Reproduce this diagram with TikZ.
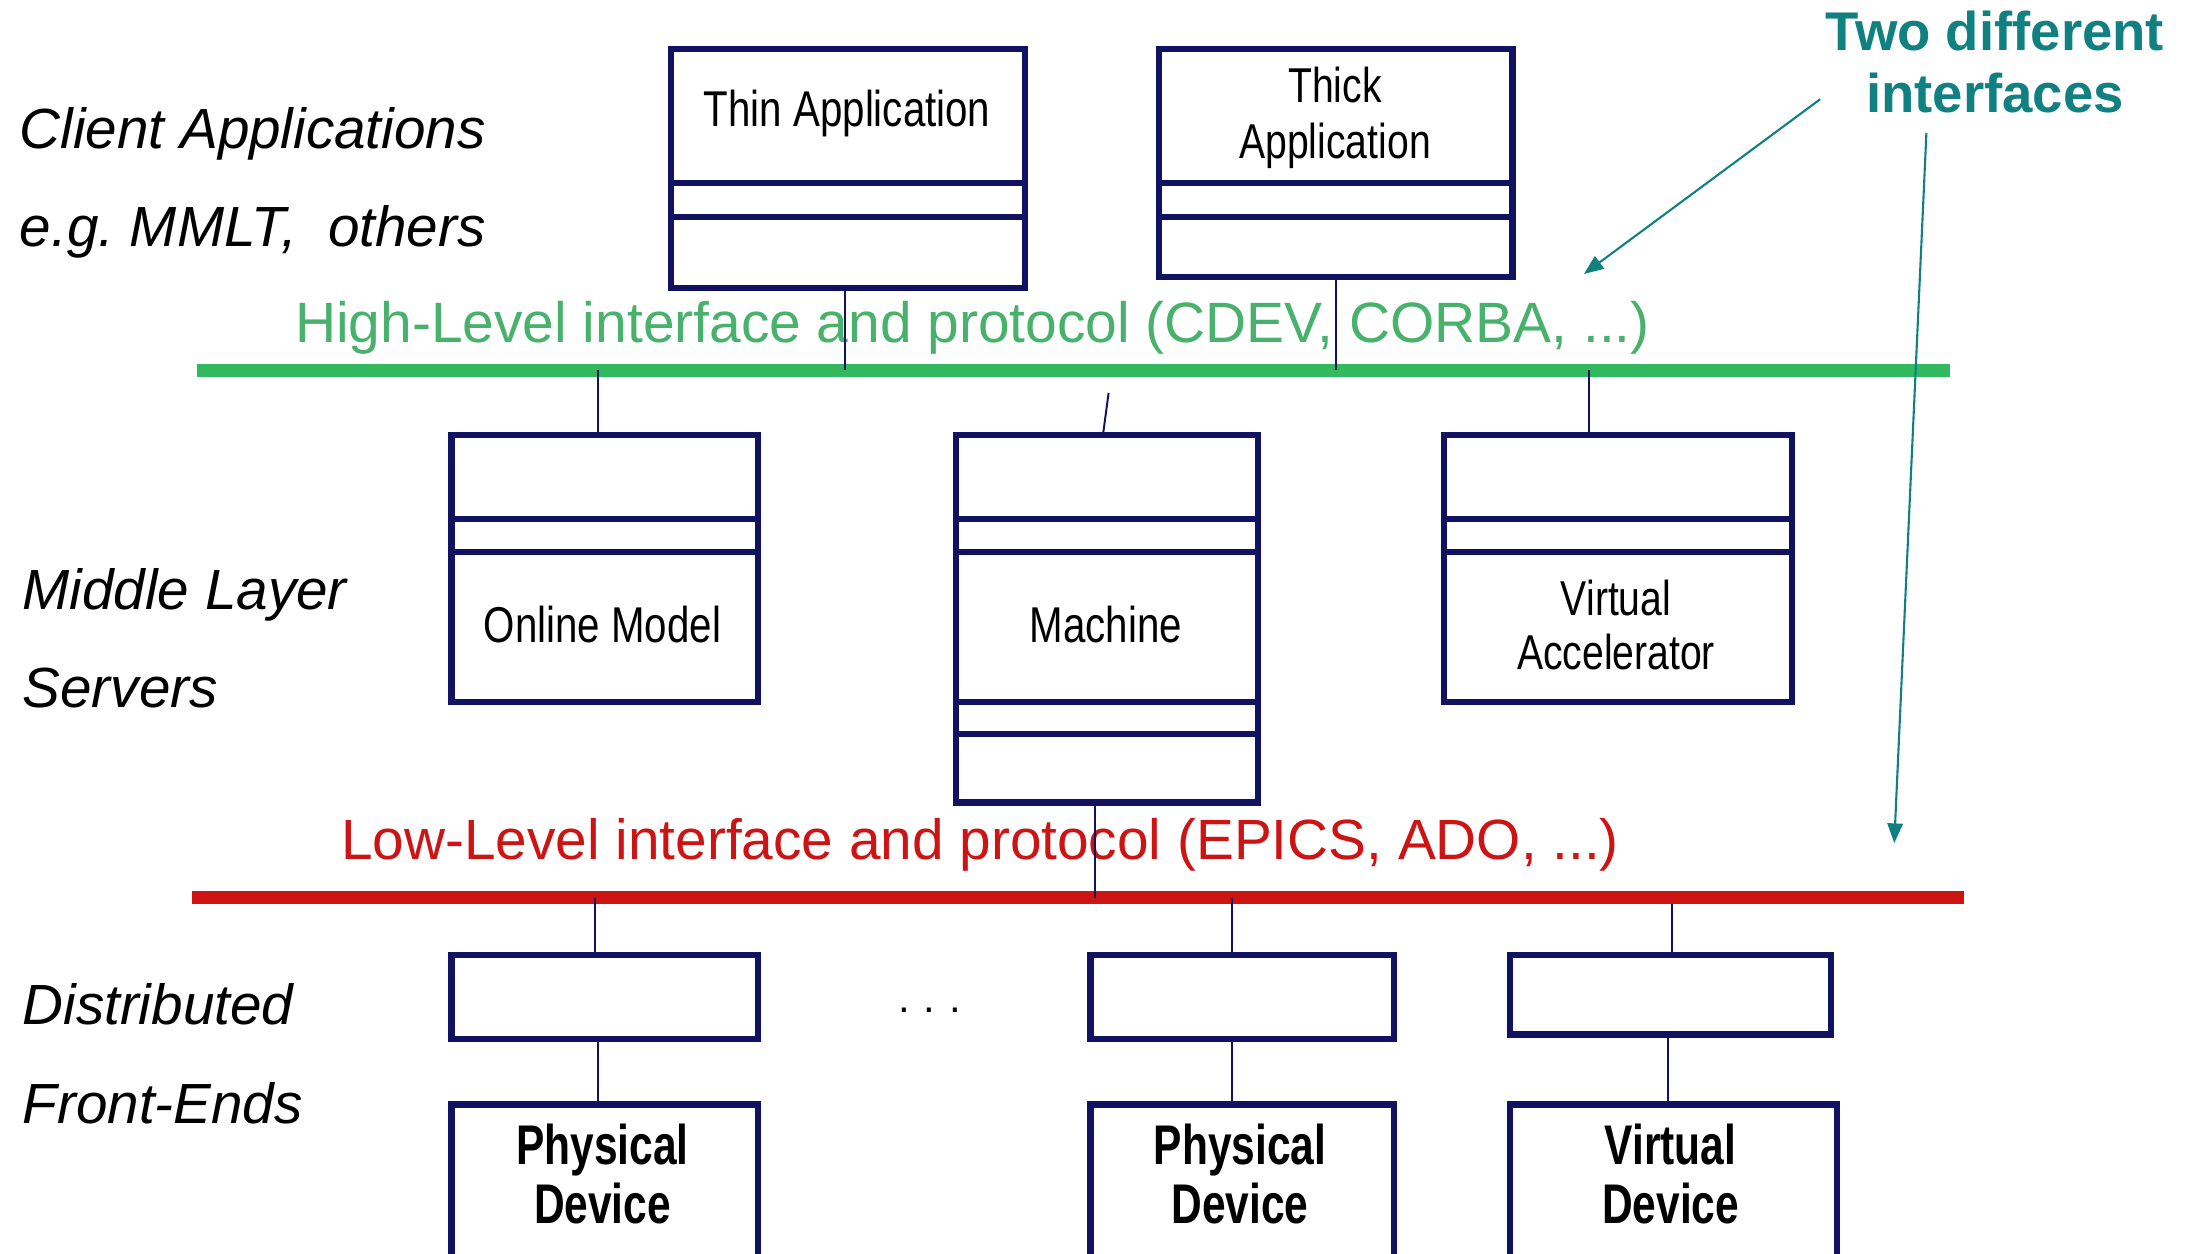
\documentclass[tikz,border=0pt]{standalone}
\usepackage{fontspec}
\setmainfont{Liberation Sans}
\newfontfamily\narrowfont[FakeStretch=0.8]{Liberation Sans}
\newfontfamily\devfont[FakeStretch=0.76]{Liberation Sans}
\usetikzlibrary{arrows.meta,calc}
\definecolor{boxnavy}{RGB}{18,18,98}
\definecolor{busgreen}{RGB}{50,185,95}
\definecolor{hltext}{RGB}{72,178,108}
\definecolor{busred}{RGB}{205,20,20}
\definecolor{tealnote}{RGB}{16,128,128}
\begin{document}
\begin{tikzpicture}[x=1pt,y=-1pt,
  umlbox/.style={draw=boxnavy, line width=4.5pt, inner sep=0pt, outer sep=0pt, anchor=north west},
  sepline/.style={draw=boxnavy, line width=4.5pt},
  conn/.style={draw=boxnavy, line width=1.4pt},
  layerlbl/.style={font=\fontsize{40.5}{44}\selectfont\itshape, anchor=base west, inner sep=0pt, text=black},
  boxtxt/.style={font=\narrowfont\fontsize{36}{40}\selectfont, align=center, inner sep=0pt, text=black},
  devtxt/.style={font=\devfont\bfseries\fontsize{40}{42}\selectfont, align=center, inner sep=0pt, text=black, anchor=north},
  bus/.style={inner sep=0pt, outer sep=0pt, anchor=west},
  note/.style={draw=tealnote, line width=1.5pt, -{Triangle[length=14pt,width=11pt]}}
]
\clip (0,0) rectangle (1568,897);
\fill[white] (0,0) rectangle (1568,897);

% layer labels
\node[layerlbl] (l1) at (14,106) {Client Applications};
\node[layerlbl] (l2) at (14,176) {e.g.\ MMLT,\ \ others};
\node[layerlbl] (l3) at (16,436) {Middle Layer};
\node[layerlbl] (l4) at (16,506) {Servers};
\node[layerlbl] (l5) at (16,733) {Distributed};
\node[layerlbl] (l6) at (16,804) {Front-Ends};

% buses
\node[bus, fill=busgreen, minimum width=1254, minimum height=9] (hl) at (141,265) {};
\node[bus, fill=busred, minimum width=1268, minimum height=10] (ll) at (137,642) {};
\node[anchor=base west, inner sep=0pt, text=hltext, font=\fontsize{40.7}{44}\selectfont] (hlt) at (211,245) {High-Level interface and protocol (CDEV, CORBA, ...)};
\node[anchor=base west, inner sep=0pt, text=busred, font=\fontsize{40.6}{44}\selectfont] (llt) at (244,615) {Low-Level interface and protocol (EPICS, ADO, ...)};

% client applications
\node[umlbox, minimum width=253, minimum height=171] (thin) at (480,35) {};
\draw[sepline] (thin.west |- 0,131) -- (thin.east |- 0,131);
\draw[sepline] (thin.west |- 0,155) -- (thin.east |- 0,155);
\node[boxtxt] (thint) at (606,81) {Thin Application};

\node[umlbox, minimum width=253, minimum height=163] (thick) at (829,35) {};
\draw[sepline] (thick.west |- 0,131) -- (thick.east |- 0,131);
\draw[sepline] (thick.west |- 0,155) -- (thick.east |- 0,155);
\node[boxtxt, anchor=north, font=\narrowfont\fontsize{35}{40}\selectfont] (thickt) at (955,48) {Thick\\Application};

\coordinate (thinb) at ($(thin.south)+(-2,0)$);
\draw[conn] (thinb) -- (thinb |- hl.center);
\draw[conn] (thick.south) -- (thick.south |- hl.center);

% middle layer servers
\node[umlbox, minimum width=219, minimum height=191] (om) at (323,311) {};
\draw[sepline] (om.west |- 0,371) -- (om.east |- 0,371);
\draw[sepline] (om.west |- 0,395) -- (om.east |- 0,395);
\node[boxtxt] (omt) at (431,447) {Online Model};

\node[umlbox, minimum width=216, minimum height=263] (mach) at (684,311) {};
\draw[sepline] (mach.west |- 0,371) -- (mach.east |- 0,371);
\draw[sepline] (mach.west |- 0,395) -- (mach.east |- 0,395);
\draw[sepline] (mach.west |- 0,502) -- (mach.east |- 0,502);
\draw[sepline] (mach.west |- 0,525) -- (mach.east |- 0,525);
\node[boxtxt] (macht) at (791,447) {Machine};

\node[umlbox, minimum width=249, minimum height=191] (va) at (1033,311) {};
\draw[sepline] (va.west |- 0,371) -- (va.east |- 0,371);
\draw[sepline] (va.west |- 0,395) -- (va.east |- 0,395);
\node[boxtxt, anchor=north, font=\narrowfont\fontsize{35}{38}\selectfont] (vat) at (1156,415) {Virtual\\Accelerator};

\coordinate (omt0) at ($(om.north)+(-5,0)$);
\coordinate (mtop) at (793,281);
\coordinate (macht0) at ($(mach.north)+(-3,0)$);
\coordinate (vat0) at ($(va.north)+(-21,0)$);
\coordinate (machb) at ($(mach.south)+(-9,0)$);
\draw[conn] (omt0 |- hl.center) -- (omt0);
\draw[conn] (mtop) -- (macht0);
\draw[conn] (vat0 |- hl.center) -- (vat0);
\draw[conn] (machb) -- (machb |- ll.center);

% front ends
\node[umlbox, minimum width=219, minimum height=60] (fe1) at (323,683) {};
\node[umlbox, minimum width=217, minimum height=60] (fe2) at (780,683) {};
\node[umlbox, minimum width=230, minimum height=57] (fe3) at (1080,683) {};
\node[anchor=base, inner sep=0pt, font=\fontsize{30}{34}\selectfont] (dots) at (665,724) {.\,\,.\,\,.};

\coordinate (fe1t) at ($(fe1.north)+(-7,0)$);
\coordinate (fe2t) at ($(fe2.north)+(-7,0)$);
\coordinate (fe3t) at ($(fe3.north)+(1,0)$);
\draw[conn] (fe1t |- ll.center) -- (fe1t);
\draw[conn] (fe2t |- ll.center) -- (fe2t);
\draw[conn] (fe3t |- ll.south) -- (fe3t);

% devices
\node[umlbox, minimum width=219, minimum height=140] (dev1) at (323,790) {};
\node[umlbox, minimum width=217, minimum height=140] (dev2) at (780,790) {};
\node[umlbox, minimum width=234, minimum height=140] (dev3) at (1080,790) {};
\node[devtxt] (dev1t) at (431,804) {Physical\\Device};
\node[devtxt] (dev2t) at (887,804) {Physical\\Device};
\node[devtxt] (dev3t) at (1195,804) {Virtual\\Device};

\coordinate (fe1b) at ($(fe1.south)+(-5,0)$);
\coordinate (fe2b) at ($(fe2.south)+(-7,0)$);
\coordinate (fe3b) at ($(fe3.south)+(-2,0)$);
\draw[conn] (fe1b) -- (fe1b |- dev1.north);
\draw[conn] (fe2b) -- (fe2b |- dev2.north);
\draw[conn] (fe3b) -- (fe3b |- dev3.north);

% note
\node[anchor=north, inner sep=0pt, align=center, text=tealnote, font=\bfseries\fontsize{39}{44}\selectfont] (two) at (1427,8) {Two different\\interfaces};
\coordinate (n1s) at (1302,71);
\coordinate (n1e) at (1133,196);
\coordinate (n2s) at (1378,95);
\coordinate (n2e) at (1355,603);
\draw[note] (n1s) -- (n1e);
\draw[note] (n2s) -- (n2e);
\end{tikzpicture}
\end{document}
